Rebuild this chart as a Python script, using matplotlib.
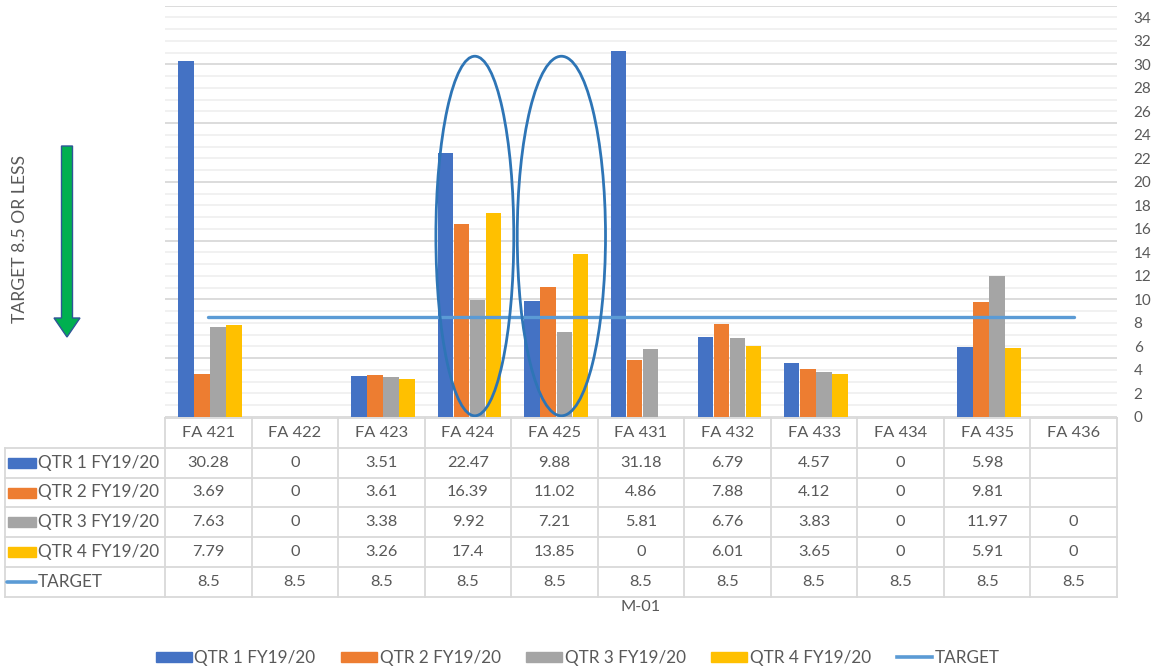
import numpy as np
import matplotlib
matplotlib.use("Agg")
import matplotlib.pyplot as plt
from matplotlib.patches import Ellipse, FancyArrow, Rectangle
from matplotlib.lines import Line2D
from matplotlib.transforms import IdentityTransform

plt.rcParams['font.family'] = ['Lato', 'DejaVu Sans']

# ---- data ----
categories = ["FA 421", "FA 422", "FA 423", "FA 424", "FA 425", "FA 431",
              "FA 432", "FA 433", "FA 434", "FA 435", "FA 436"]
qtr1 = [30.28, 0, 3.51, 22.47, 9.88, 31.18, 6.79, 4.57, 0, 5.98, np.nan]
qtr2 = [3.69, 0, 3.61, 16.39, 11.02, 4.86, 7.88, 4.12, 0, 9.81, np.nan]
qtr3 = [7.63, 0, 3.38, 9.92, 7.21, 5.81, 6.76, 3.83, 0, 11.97, 0]
qtr4 = [7.79, 0, 3.26, 17.4, 13.85, 0, 6.01, 3.65, 0, 5.91, 0]
target = [8.5] * 11
series_names = ["QTR 1 FY19/20", "QTR 2 FY19/20", "QTR 3 FY19/20", "QTR 4 FY19/20"]
target_name = "TARGET"
x_title = "M-01"
side_note = "TARGET 8.5 OR LESS"
highlighted = ["FA 424", "FA 425"]
y_ticks = list(range(0, 35, 2))

colors = ["#4472C4", "#ED7D31", "#A5A5A5", "#FFC000"]
target_color = "#5B9BD5"
text_color = "#595959"
border_color = "#D9D9D9"

W, H = 1159, 670
fig = plt.figure(figsize=(W / 100, H / 100), dpi=100)


def fx(px):
    return px / W


def fy(py):
    return 1 - py / H


# plot area
left, right, top, bottom = 165, 1117, 5.7, 417
ax = fig.add_axes([fx(left), fy(bottom), fx(right) - fx(left), fy(top) - fy(bottom)])
n = len(categories)
x = np.arange(n)
ax.set_xlim(-0.5, n - 0.5)
ax.set_ylim(0, 35)

# gridlines: light every unit, darker every five
for v in range(0, 36):
    ax.axhline(v, color="#D9D9D9" if v % 5 == 0 else "#F0F0F0",
               lw=1.3, zorder=0)

bar_w = 0.185
all_series = [qtr1, qtr2, qtr3, qtr4]
for i, (vals, c) in enumerate(zip(all_series, colors)):
    offs = (i - 1.5) * bar_w + 0.02
    ax.bar(x + offs, np.nan_to_num(vals), width=bar_w * 0.96, color=c, zorder=2)

ax.plot(x, target, color=target_color, lw=2.4, zorder=3, solid_capstyle='round')

# highlight ellipses
for name, w, dx in zip(highlighted, [0.9, 1.02], [0.08, 0.08]):
    i = categories.index(name)
    ax.add_patch(Ellipse((i + dx, 15.4), w, 30.6, fill=False,
                         edgecolor="#2E75B6", lw=2.0, zorder=4, clip_on=False))

ax.set_xticks([])
ax.yaxis.tick_right()
ax.set_yticks(y_ticks)
ax.tick_params(axis='y', length=0, pad=12, labelsize=11, labelcolor=text_color)
for s in ax.spines.values():
    s.set_visible(False)

# ---- data table ----
col_w = (right - left) / n
row_top = 418
row_h = 29.8
lw_tab = 1.3
# horizontal lines
fig.add_artist(Line2D([fx(left), fx(right)], [fy(row_top)] * 2, color=border_color, lw=lw_tab))
for r in range(1, 7):
    yy = row_top + r * row_h
    fig.add_artist(Line2D([fx(5), fx(right)], [fy(yy)] * 2, color=border_color, lw=lw_tab))
# vertical lines
fig.add_artist(Line2D([fx(5)] * 2, [fy(row_top + row_h), fy(row_top + 6 * row_h)],
                      color=border_color, lw=lw_tab))
for c in range(n + 1):
    xx = left + c * col_w
    fig.add_artist(Line2D([fx(xx)] * 2, [fy(row_top), fy(row_top + 6 * row_h)],
                          color=border_color, lw=lw_tab))

fs = 11.8
fs_lab = 12.3
for c, cat in enumerate(categories):
    fig.text(fx(left + (c + 0.5) * col_w), fy(row_top + 0.5 * row_h), cat,
             ha='center', va='center', fontsize=fs, color=text_color)


def fmt(v):
    if v is None or (isinstance(v, float) and np.isnan(v)):
        return ""
    return f"{v:g}"


rows = all_series + [target]
labels = series_names + [target_name]
for r, (vals, lab) in enumerate(zip(rows, labels)):
    yc = row_top + (r + 1.5) * row_h
    if r < 4:
        fig.add_artist(Rectangle((fx(8), fy(yc + 5)), fx(36) - fx(8), fy(yc - 5) - fy(yc + 5),
                                 color=colors[r], transform=fig.transFigure))
    else:
        fig.add_artist(Line2D([fx(7), fx(36)], [fy(yc)] * 2, color=target_color, lw=2.6,
                              solid_capstyle='round'))
    fig.text(fx(38), fy(yc), lab, ha='left', va='center', fontsize=fs_lab, color=text_color)
    for c, v in enumerate(vals):
        fig.text(fx(left + (c + 0.5) * col_w), fy(yc), fmt(v),
                 ha='center', va='center', fontsize=fs, color=text_color)

fig.text(fx((left + right) / 2), fy(607), x_title, ha='center', va='center',
         fontsize=fs, color=text_color)

# ---- side note with arrow ----
fig.text(fx(20), fy(239), side_note, rotation=90, ha='center', va='center',
         fontsize=12.6, color=text_color)
arrow = FancyArrow(67, H - 146, 0, -(337 - 146), width=11, head_width=26,
                   head_length=19, length_includes_head=True,
                   facecolor="#00B050", edgecolor="#2F5597", lw=1.0,
                   transform=IdentityTransform())
fig.add_artist(arrow)

# ---- legend ----
handles = [Rectangle((0, 0), 1, 1, color=c) for c in colors]
handles.append(Line2D([0], [0], color=target_color, lw=2.6))
fig.legend(handles, series_names + [target_name], loc='center',
           bbox_to_anchor=(fx(578), fy(658)), ncol=5, frameon=False,
           fontsize=fs_lab, labelcolor=text_color, handlelength=2.1,
           handleheight=0.6, handletextpad=0.15, columnspacing=1.5)

fig.savefig("out.png", dpi=100)
